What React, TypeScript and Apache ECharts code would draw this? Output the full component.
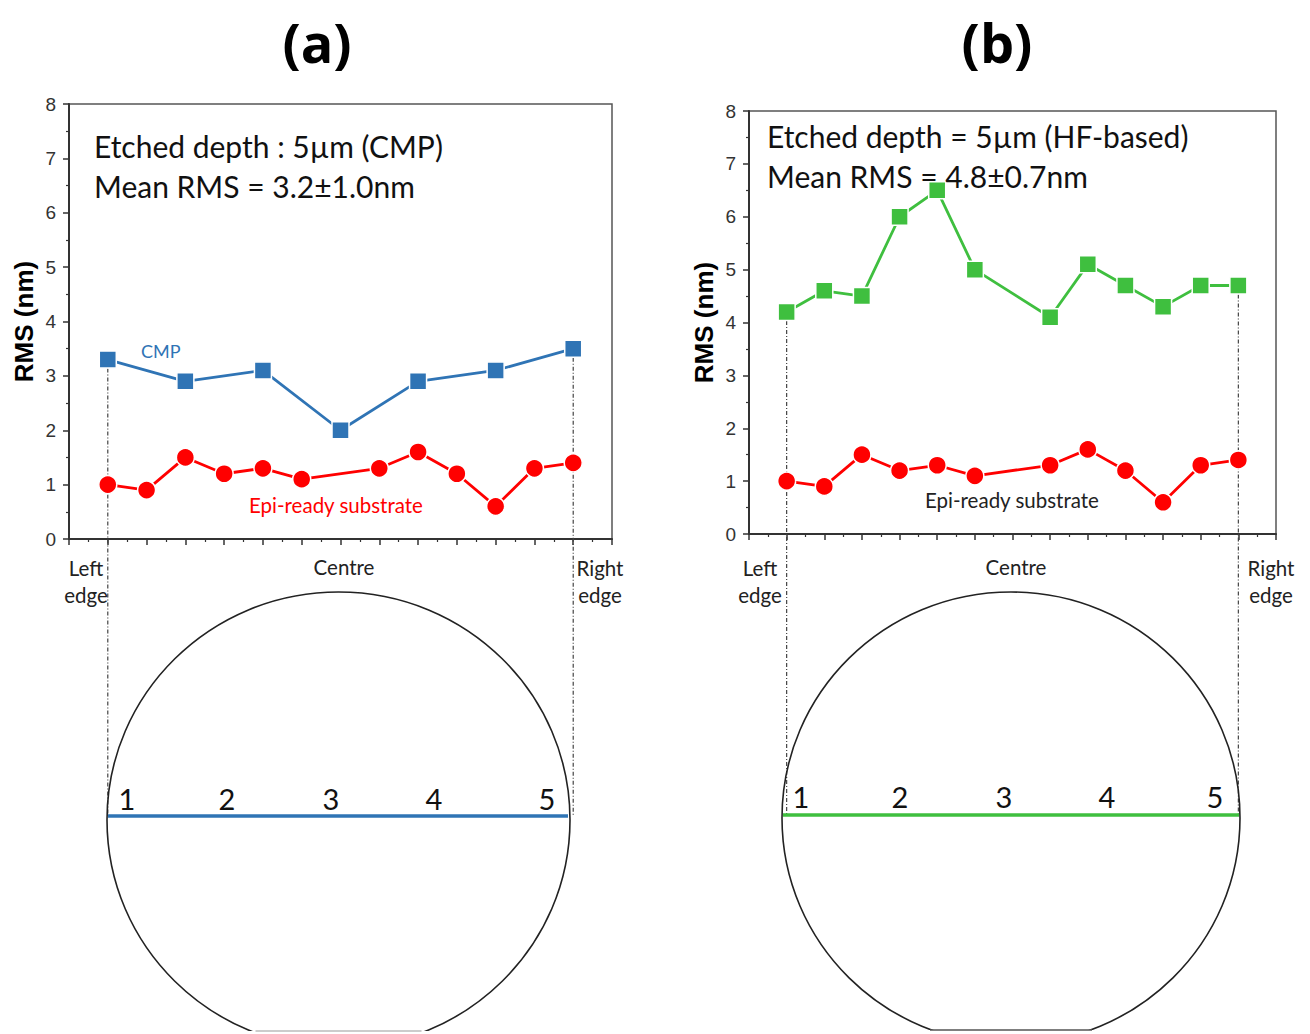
import React, { useEffect, useRef } from "react";
import * as echarts from "echarts";

// Measurement positions along the wafer diameter (1..13, centre = 7)
const epiPositions = [1, 2, 3, 4, 5, 6, 8, 9, 10, 11, 12, 13];
const epiReadyRms = [1.0, 0.9, 1.5, 1.2, 1.3, 1.1, 1.3, 1.6, 1.2, 0.6, 1.3, 1.4];
const cmpPositions = [1, 3, 5, 7, 9, 11, 13];
const cmpRms = [3.3, 2.9, 3.1, 2.0, 2.9, 3.1, 3.5];
const hfPositions = [1, 2, 3, 4, 5, 6, 8, 9, 10, 11, 12, 13];
const hfRms = [4.2, 4.6, 4.5, 6.0, 6.5, 5.0, 4.1, 5.1, 4.7, 4.3, 4.7, 4.7];
const yTicks = [0, 1, 2, 3, 4, 5, 6, 7, 8];
const waferNumbers = ["1", "2", "3", "4", "5"];

const BLUE = "#2f74b5";
const GREEN = "#3fbf3f";
const RED = "#ff0000";
const SANS = "Lato, 'Open Sans', sans-serif";
const ARIAL = "'Liberation Sans', Arial, sans-serif";

const pairs = (xs: number[], ys: number[]) => xs.map((x, i) => [x, ys[i]]);

export default function App() {
  const ref = useRef<HTMLDivElement>(null);
  useEffect(() => {
    document.body.style.margin = "0";
    const chart = echarts.init(ref.current!, null, { renderer: "svg" });

    const xAxis = (gi: number) => ({
      type: "value",
      gridIndex: gi,
      min: 0,
      max: 14,
      interval: 1,
      axisLine: { show: true, lineStyle: { color: "#333", width: 2 } },
      axisTick: { show: true, length: 6, lineStyle: { color: "#333", width: 1.5 } },
      minorTick: { show: true, splitNumber: 2, length: 3, lineStyle: { color: "#333", width: 1.2 } },
      axisLabel: { show: false },
      splitLine: { show: false },
      minorSplitLine: { show: false },
    });
    const yAxis = (gi: number) => ({
      type: "value",
      gridIndex: gi,
      min: yTicks[0],
      max: yTicks[yTicks.length - 1],
      interval: 1,
      name: "RMS (nm)",
      nameLocation: "middle",
      nameGap: 32,
      nameRotate: 90,
      nameTextStyle: { fontSize: 26, fontWeight: "bold", color: "#000", fontFamily: ARIAL },
      axisLine: { show: true, lineStyle: { color: "#333", width: 2 } },
      axisTick: { show: true, length: 6, lineStyle: { color: "#333", width: 1.5 } },
      minorTick: { show: true, splitNumber: 2, length: 3, lineStyle: { color: "#333", width: 1.2 } },
      axisLabel: { fontSize: 19, color: "#333", fontFamily: ARIAL, margin: 13 },
      splitLine: { show: false },
      minorSplitLine: { show: false },
    });

    const lineSeries = (name: string, xi: number, data: number[][], color: string, symbol: string, size: number) => ({
      name,
      type: "line",
      xAxisIndex: xi,
      yAxisIndex: xi,
      data,
      symbol,
      symbolSize: size,
      showAllSymbol: true,
      lineStyle: { color, width: 2.8 },
      itemStyle: { color, borderColor: "#fff", borderWidth: 1.5 },
      z: 3,
    });

    chart.setOption({
      animation: false,
      grid: [
        { left: 69, top: 104, width: 543, height: 435, show: true, borderColor: "#555", borderWidth: 1.5 },
        { left: 749, top: 111, width: 527, height: 423, show: true, borderColor: "#555", borderWidth: 1.5 },
      ],
      xAxis: [xAxis(0), xAxis(1)],
      yAxis: [yAxis(0), yAxis(1)],
      series: [
        lineSeries("Epi-ready substrate (a)", 0, pairs(epiPositions, epiReadyRms), RED, "circle", 18),
        lineSeries("CMP", 0, pairs(cmpPositions, cmpRms), BLUE, "rect", 17),
        lineSeries("Epi-ready substrate (b)", 1, pairs(epiPositions, epiReadyRms), RED, "circle", 18),
        lineSeries("HF-based", 1, pairs(hfPositions, hfRms), GREEN, "rect", 17),
      ],
    });

    const px = (gi: number, x: number, y: number) =>
      chart.convertToPixel({ gridIndex: gi } as any, [x, y]) as number[];

    const graphics: any[] = [];
    const text = (t: string, x: number, y: number, size: number, opts: any = {}) =>
      graphics.push({
        type: "text",
        z: 10,
        style: {
          text: t,
          x,
          y,
          font: `${opts.weight || "normal"} ${size}px ${opts.family || SANS}`,
          fill: opts.fill || "#000",
          align: opts.align || "left",
          verticalAlign: "middle",
          lineHeight: opts.lineHeight,
        },
      });

    // Panel titles
    const TITLE = "'Open Sans', Lato, sans-serif";
    text("(a)", 317, 42, 54, { weight: "bold", align: "center", family: TITLE });
    text("(b)", 997, 42, 54, { weight: "bold", align: "center", family: TITLE });

    // Annotations
    text("Etched depth : 5µm (CMP)", 94, 146, 30, { fill: "#111" });
    text("Mean RMS = 3.2±1.0nm", 94, 186, 30, { fill: "#111" });
    text("Etched depth = 5µm (HF-based)", 767, 136, 30, { fill: "#111" });
    text("Mean RMS = 4.8±0.7nm", 767, 176, 30, { fill: "#111" });
    text("CMP", 141, 351, 18, { fill: BLUE });
    text("Epi-ready substrate", 249, 505, 20.5, { fill: RED });
    text("Epi-ready substrate", 925, 500, 20.5, { fill: "#222" });

    // x-axis descriptive labels
    const edgeLabels = (leftX: number, centreX: number, rightX: number) => {
      text("Left\nedge", leftX, 581, 20.5, { align: "center", fill: "#222", lineHeight: 27 });
      text("Centre", centreX, 567, 20.5, { align: "center", fill: "#222" });
      text("Right\nedge", rightX, 581, 20.5, { align: "center", fill: "#222", lineHeight: 27 });
    };
    edgeLabels(86, 344, 600);
    edgeLabels(760, 1016, 1271);

    // Wafers
    const wafer = (cx: number, cy: number, rx: number, ry: number, lineY: number, x0: number, x1: number, color: string, numX: number[], numY: number, flatY: number, flatHalf: number, flatColor: string) => {
      graphics.push({
        type: "ellipse",
        shape: { cx, cy, rx, ry },
        style: { fill: "none", stroke: "#222", lineWidth: 1.6 },
        z: 5,
      });
      graphics.push({
        type: "rect",
        shape: { x: cx - rx - 5, y: flatY, width: 2 * rx + 10, height: 60 },
        style: { fill: "#fff" },
        z: 6,
      });
      graphics.push({
        type: "line",
        shape: { x1: cx - flatHalf, y1: flatY, x2: cx + flatHalf, y2: flatY },
        style: { stroke: flatColor, lineWidth: 1.6 },
        z: 7,
      });
      graphics.push({
        type: "line",
        shape: { x1: x0, y1: lineY, x2: x1, y2: lineY },
        style: { stroke: color, lineWidth: 3.5 },
        z: 7,
      });
      waferNumbers.forEach((n, i) => text(n, numX[i], numY, 29, { align: "center", fill: "#111" }));
    };
    wafer(338.5, 820, 231.5, 228, 816, 108, 568, BLUE, [127, 227, 331, 434, 547], 798, 1031, 83, "#bbb");
    wafer(1011, 818, 229, 226, 815, 783, 1239, GREEN, [801, 900, 1004, 1107, 1215], 796, 1030, 81, "#555");

    // Dotted guide lines from first / last measured point down to the wafer
    const guide = (gi: number, x: number, y: number, endY: number) => {
      const p = px(gi, x, y);
      graphics.push({
        type: "line",
        shape: { x1: p[0], y1: p[1], x2: p[0], y2: endY },
        style: { stroke: "#444", lineWidth: 1.2, lineDash: [4, 2, 1, 2] },
        z: 2,
      });
    };
    guide(0, cmpPositions[0], cmpRms[0], 816);
    guide(0, cmpPositions[cmpPositions.length - 1], cmpRms[cmpRms.length - 1], 816);
    guide(1, hfPositions[0], hfRms[0], 815);
    guide(1, hfPositions[hfPositions.length - 1], hfRms[hfRms.length - 1], 815);

    chart.setOption({ graphic: graphics });

    return () => chart.dispose();
  }, []);
  return <div ref={ref} style={{ width: 1310, height: 1034 }} />;
}
